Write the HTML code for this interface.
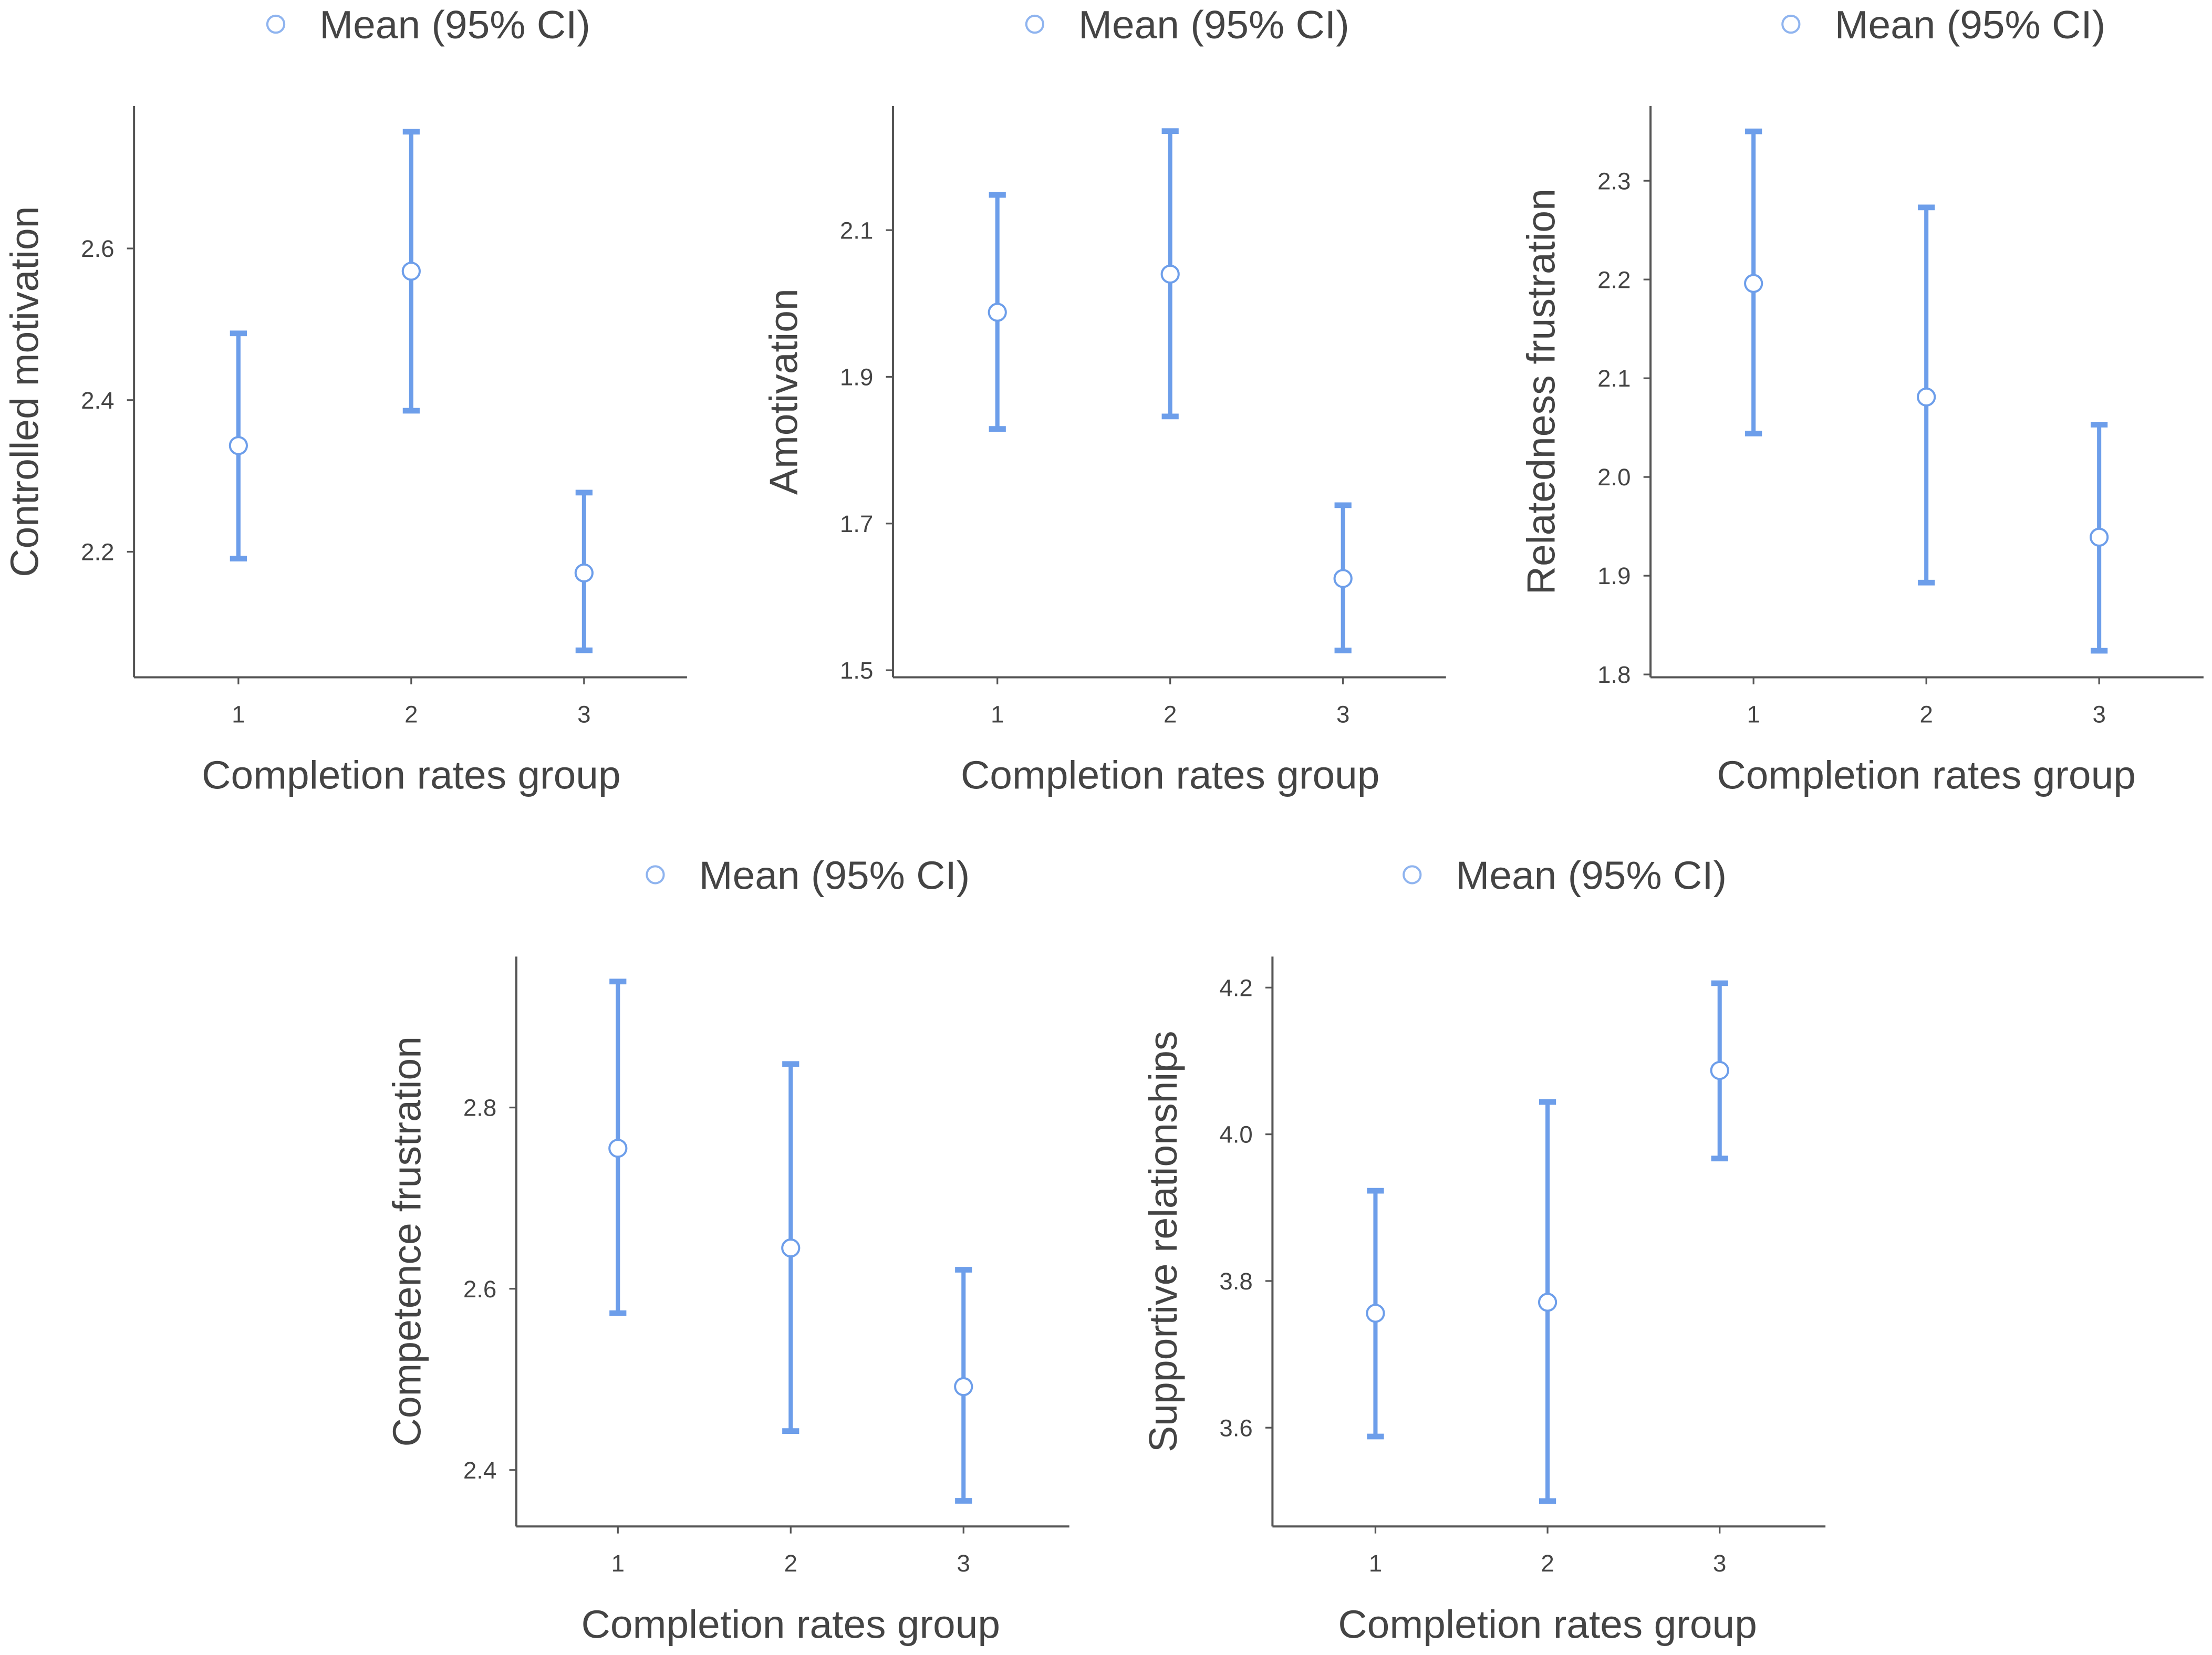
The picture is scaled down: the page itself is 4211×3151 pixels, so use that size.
<!DOCTYPE html>
<html><head><meta charset="utf-8"><style>
html,body{margin:0;padding:0;background:#fff;}
svg{display:block;}
text{font-family:"Liberation Sans",Arial,sans-serif;}
</style></head>
<body>
<svg id="chart" width="4211" height="3151" viewBox="0 0 1568 1173" xmlns="http://www.w3.org/2000/svg">
<rect width="1568" height="1173" fill="#fff"/>
</svg>
<script>
const categories = ["1","2","3"];
const p1Mean=[2.34,2.57,2.172], p1Lo=[2.191,2.386,2.07], p1Hi=[2.488,2.754,2.278], p1Ticks=[2.2,2.4,2.6];
const p2Mean=[1.988,2.04,1.625], p2Lo=[1.829,1.846,1.527], p2Hi=[2.148,2.235,1.725], p2Ticks=[1.5,1.7,1.9,2.1];
const p3Mean=[2.196,2.081,1.939], p3Lo=[2.044,1.893,1.824], p3Hi=[2.35,2.273,2.053], p3Ticks=[1.8,1.9,2.0,2.1,2.2,2.3];
const p4Mean=[2.755,2.645,2.492], p4Lo=[2.573,2.443,2.366], p4Hi=[2.939,2.848,2.621], p4Ticks=[2.4,2.6,2.8];
const p5Mean=[3.756,3.771,4.087], p5Lo=[3.588,3.5,3.967], p5Hi=[3.923,4.044,4.206], p5Ticks=[3.6,3.8,4.0,4.2];
const yTitles=["Controlled motivation","Amotivation","Relatedness frustration","Competence frustration","Supportive relationships"];

const svg=document.getElementById('chart');
const NS='http://www.w3.org/2000/svg';
function mk(tag,attrs,parent){const e=document.createElementNS(NS,tag);for(const k in attrs)e.setAttribute(k,attrs[k]);(parent||svg).appendChild(e);return e;}
const BLUE='#6d9eea', AX='#555', TX='#444';

const layouts=[
 {ax:95, by:480, ty:75, x1:169, dx:122.5, rv:2.6, ry:176, k:537.5, decimals:1},
 {ax:633,by:480, ty:75, x1:707, dx:122.5, rv:2.1, ry:163, k:520, decimals:1},
 {ax:1170,by:480,ty:75, x1:1243,dx:122.5, rv:2.3, ry:128, k:700, decimals:1},
 {ax:366,by:1082,ty:678,x1:438, dx:122.5, rv:2.8, ry:785, k:642.5, decimals:1},
 {ax:902,by:1082,ty:678,x1:975, dx:122, rv:4.2, ry:700, k:520, decimals:1}
];
const means=[p1Mean,p2Mean,p3Mean,p4Mean,p5Mean], los=[p1Lo,p2Lo,p3Lo,p4Lo,p5Lo], his=[p1Hi,p2Hi,p3Hi,p4Hi,p5Hi], ticks=[p1Ticks,p2Ticks,p3Ticks,p4Ticks,p5Ticks];

layouts.forEach((L,pi)=>{
  const g=mk('g',{});
  
  
  const yS=v=>L.ry+(L.rv-v)*L.k;
  const xS=i=>L.x1+i*L.dx;
  const xr=L.ax+392;
  const cx=xS(1);
  const lg=mk('g',{},g);
  
  
  const ly=L.ty-58;
  mk('circle',{cx:cx-96,cy:ly,r:6,fill:'#fff',stroke:'#8fb4ef','stroke-width':1.5},lg);
  const lt=mk('text',{x:cx-65,y:ly+10,'font-size':28,fill:TX,textLength:192,lengthAdjust:'spacingAndGlyphs'},lg);lt.textContent='Mean (95% CI)';
  const ya=mk('line',{x1:L.ax,y1:L.ty,x2:L.ax,y2:L.by,stroke:AX,'stroke-width':1.5},g);
  
  
  const xa=mk('line',{x1:L.ax,y1:L.by,x2:xr,y2:L.by,stroke:AX,'stroke-width':1.5},g);
  
  
  ticks[pi].forEach(v=>{
    const y=yS(v);
    mk('line',{x1:L.ax-5,y1:y,x2:L.ax,y2:y,stroke:AX,'stroke-width':1.2},g);
    const t=mk('text',{x:L.ax-14,y:y+6,'font-size':17,fill:TX,'text-anchor':'end'},g);
    
    
    t.textContent=v.toFixed(L.decimals);
  });
  categories.forEach((c,i)=>{
    const x=xS(i);
    mk('line',{x1:x,y1:L.by,x2:x,y2:L.by+5,stroke:AX,'stroke-width':1.2},g);
    const t=mk('text',{x:x,y:L.by+32,'font-size':17,fill:TX,'text-anchor':'middle'},g);
    
    
    t.textContent=c;
    const eb=mk('g',{},g);
    
    
    const yh=yS(his[pi][i]), yl=yS(los[pi][i]), ym=yS(means[pi][i]);
    mk('line',{x1:x,y1:yh,x2:x,y2:yl,stroke:BLUE,'stroke-width':3},eb);
    mk('line',{x1:x-6,y1:yh,x2:x+6,y2:yh,stroke:BLUE,'stroke-width':4},eb);
    mk('line',{x1:x-6,y1:yl,x2:x+6,y2:yl,stroke:BLUE,'stroke-width':4},eb);
    const pt=mk('circle',{cx:x,cy:ym,r:6,fill:'#fff',stroke:BLUE,'stroke-width':1.5},eb);
    
    
  });
  const xt=mk('text',{x:cx,y:L.by+79,'font-size':28,fill:TX,'text-anchor':'middle',textLength:297,lengthAdjust:'spacingAndGlyphs'},g);
  
  
  xt.textContent='Completion rates group';
  const ym=(L.ty+L.by)/2;
  const yx=L.ax-68;
  const yt=mk('text',{x:yx,y:ym,'font-size':28,fill:TX,'text-anchor':'middle',transform:`rotate(-90 ${yx} ${ym})`},g);
  
  
  yt.textContent=yTitles[pi];
});
</script>
</body></html>
